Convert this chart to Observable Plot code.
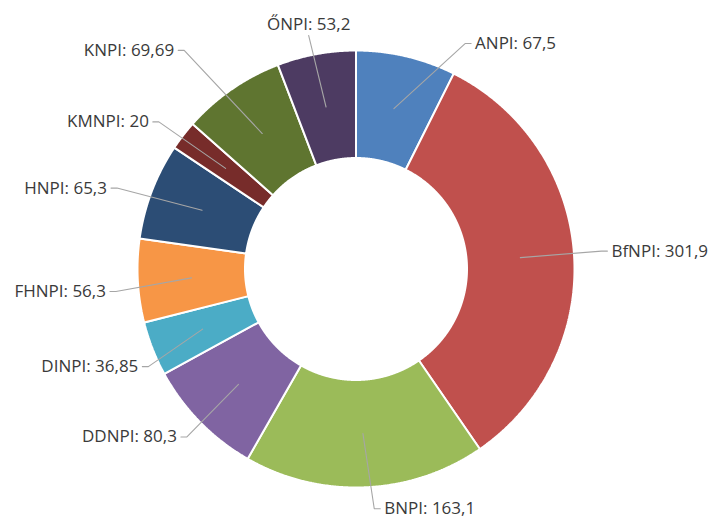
<!DOCTYPE html>
<html>
<head>
<meta charset="utf-8">
<script src="https://cdn.jsdelivr.net/npm/d3@7"></script>
<script src="https://cdn.jsdelivr.net/npm/@observablehq/plot@0.6"></script>
<style>
  html, body { margin: 0; padding: 0; background: #ffffff; }
  #chart svg { display: block; }
</style>
</head>
<body>
<div id="chart"></div>
<script>
// ---- data ----
const names = ["ANPI", "BfNPI", "BNPI", "DDNPI", "DINPI", "FHNPI", "HNPI", "KMNPI", "KNPI", "ŐNPI"];
const values = [67.5, 301.9, 163.1, 80.3, 36.85, 56.3, 65.3, 20, 69.69, 53.2];
const valueLabels = ["67,5", "301,9", "163,1", "80,3", "36,85", "56,3", "65,3", "20", "69,69", "53,2"];

// ---- styles ----
const palette = ["#4F81BD", "#C0504D", "#9BBB59", "#8064A2", "#4BACC6", "#F79646", "#2C4D75", "#772C2A", "#5F7530", "#4D3B62"];

// ---- layout ----
const W = 713, H = 520;
const CX = 355.5, CY = 268.5;
const R_OUT = 218.5, R_IN = 111, R_LABEL = 244;
const SEG = 6, GAP = 10;
// label nudges (screen px: dx right, dy down) mimicking the spreadsheet's best-fit placement
const nudge = {
  "ANPI": [53, 12], "BfNPI": [2, -1], "BNPI": [8, -4], "DDNPI": [5, -3], "DINPI": [19.5, 8.5],
  "FHNPI": [3.6, 9.4], "HNPI": [-11, 6], "KMNPI": [-4, 2], "KNPI": [-33, -18], "ŐNPI": [-3, 6.4]
};

const arcs = d3.pie().sort(null).value(d => d)(values);

// slice polygons (y axis points up)
const slices = arcs.flatMap((a, i) => {
  const n = Math.max(4, Math.ceil((a.endAngle - a.startAngle) / 0.004));
  const pts = [];
  for (let k = 0; k <= n; k++) {
    const t = a.startAngle + (a.endAngle - a.startAngle) * k / n;
    pts.push({name: names[i], x: R_OUT * Math.sin(t), y: R_OUT * Math.cos(t)});
  }
  for (let k = n; k >= 0; k--) {
    const t = a.startAngle + (a.endAngle - a.startAngle) * k / n;
    pts.push({name: names[i], x: R_IN * Math.sin(t), y: R_IN * Math.cos(t)});
  }
  return pts;
});

const rc = (R_OUT + R_IN) / 2;
const leaders = [];
const labelRows = arcs.map((a, i) => {
  const name = names[i];
  const mid = (a.startAngle + a.endAngle) / 2;
  const deg = mid * 180 / Math.PI;
  const [nx, ny] = nudge[name] || [0, 0];
  const ex = R_LABEL * Math.sin(mid) + nx;
  const ey = R_LABEL * Math.cos(mid) - ny;
  const side = (deg > 340 || deg < 5) ? "top" : (mid < Math.PI ? "right" : "left");
  leaders.push({name, x: rc * Math.sin(mid), y: rc * Math.cos(mid)});
  leaders.push({name, x: ex, y: ey});
  let tx = ex, ty = ey;
  if (side === "right") { leaders.push({name, x: ex + SEG, y: ey}); tx = ex + GAP; }
  else if (side === "left") { leaders.push({name, x: ex - SEG, y: ey}); tx = ex - GAP; }
  else { ty = ey + 11; }
  return {name, side, tx, ty, label: `${name}: ${valueLabels[i]}`};
});

const textStyle = {x: "tx", y: "ty", text: "label", fill: "#3a3a3a", fontSize: 17, fontFamily: "Open Sans"};

const chart = Plot.plot({
  width: W,
  height: H,
  margin: 0,
  x: {domain: [-CX, W - CX], axis: null},
  y: {domain: [-(H - CY), CY], axis: null},
  color: {domain: names, range: palette},
  marks: [
    Plot.line(slices, {x: "x", y: "y", z: "name", fill: "name", stroke: "#ffffff", strokeWidth: 2, strokeLinejoin: "miter", curve: "linear-closed"}),
    Plot.line(leaders, {x: "x", y: "y", z: "name", stroke: "#A6A6A6", strokeWidth: 1.1}),
    Plot.text(labelRows.filter(d => d.side === "right"), {...textStyle, textAnchor: "start"}),
    Plot.text(labelRows.filter(d => d.side === "left"), {...textStyle, textAnchor: "end"}),
    Plot.text(labelRows.filter(d => d.side === "top"), {...textStyle, textAnchor: "middle"})
  ]
});
document.getElementById("chart").appendChild(chart);
</script>
</body>
</html>
